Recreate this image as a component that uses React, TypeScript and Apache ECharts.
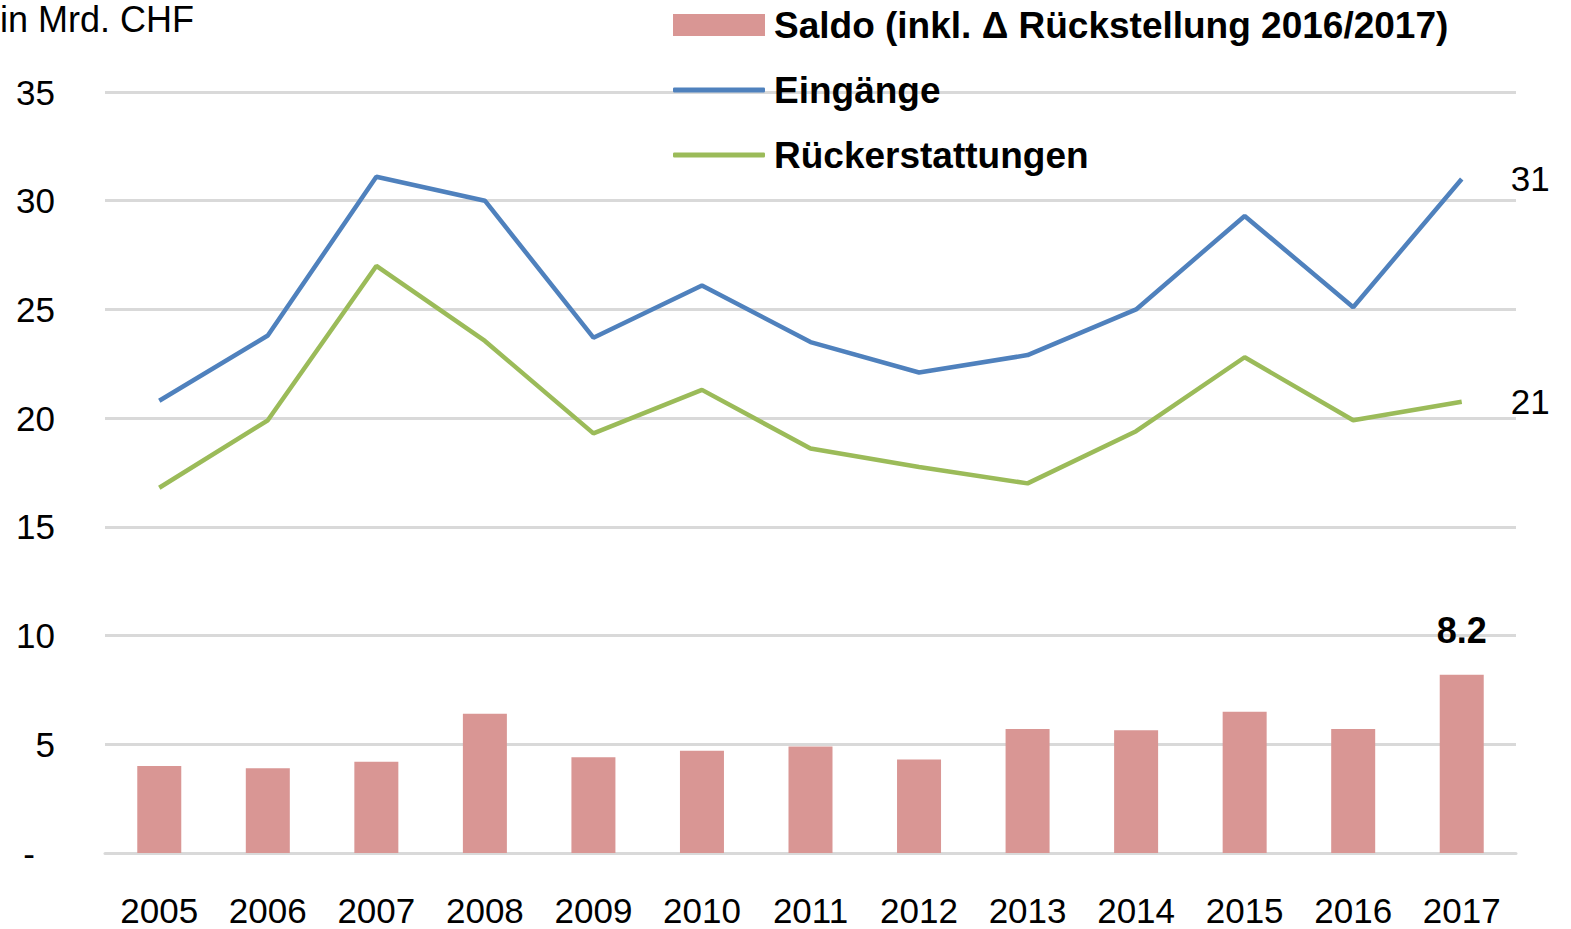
import React, { useEffect, useRef } from "react";
import * as echarts from "echarts";

const years = ["2005","2006","2007","2008","2009","2010","2011","2012","2013","2014","2015","2016","2017"];
const saldo = [4.0, 3.9, 4.2, 6.4, 4.4, 4.7, 4.9, 4.3, 5.7, 5.65, 6.5, 5.7, 8.2];
const eingaenge = [20.8, 23.8, 31.1, 30.0, 23.7, 26.1, 23.5, 22.1, 22.9, 25.0, 29.3, 25.1, 31.0];
const rueck = [16.8, 19.9, 27.0, 23.55, 19.3, 21.3, 18.6, 17.75, 17.0, 19.4, 22.8, 19.9, 20.75];
const endLabels = { saldo: "8.2", eingaenge: "31", rueck: "21" };
const names = ["Saldo (inkl. \u0394 R\u00fcckstellung 2016/2017)", "Eing\u00e4nge", "R\u00fcckerstattungen"];

const FONT = "'Liberation Sans', Arial, sans-serif";

export default function App() {
  const ref = useRef<HTMLDivElement>(null);
  useEffect(() => {
    const chart = echarts.init(ref.current!, null, { renderer: "svg" });
    const last = years.length - 1;
    const legText = { fontFamily: FONT, fontWeight: "bold", fontSize: 37, color: "#000", lineHeight: 40, padding: [0, 0, 0, 4] };
    const endLabel = (txt: string) => ({
      show: true,
      distance: 49,
      fontSize: 35,
      color: "#000",
      fontFamily: FONT,
      formatter: () => txt,
    });
    chart.setOption({
      animation: false,
      textStyle: { fontFamily: FONT },
      grid: { left: 105, right: 55, top: 92, bottom: 76, containLabel: false },
      legend: [
        {
          orient: "vertical",
          left: 668,
          top: 0,
          itemWidth: 92,
          itemHeight: 22,
          data: [{ name: names[0], icon: "rect" }],
          textStyle: legText,
        },
        {
          orient: "vertical",
          left: 668,
          top: 65,
          itemWidth: 92,
          itemHeight: 5,
          itemGap: 25,
          data: [
            { name: names[1], icon: "roundRect", itemStyle: { color: "#4f81bd" } },
            { name: names[2], icon: "roundRect", itemStyle: { color: "#9bbb59" } },
          ],
          textStyle: legText,
        },
      ],
      graphic: [
        { type: "text", left: 0, top: 1, style: { text: "in Mrd. CHF", font: `36px ${FONT}`, fill: "#000" } },
      ],
      xAxis: {
        type: "category",
        data: years,
        boundaryGap: true,
        axisLine: { lineStyle: { color: "#d9d9d9", width: 3 } },
        axisTick: { show: false },
        axisLabel: { color: "#000", fontSize: 35, margin: 40, fontFamily: FONT },
      },
      yAxis: {
        type: "value",
        min: 0,
        max: 35,
        interval: 5,
        axisLine: { show: false },
        axisTick: { show: false },
        splitLine: { lineStyle: { color: "#d9d9d9", width: 3 } },
        axisLabel: {
          color: "#000",
          fontSize: 35,
          margin: 50,
          fontFamily: FONT,
          formatter: (v: number) => (v === 0 ? "{d|-}" : String(v)),
          rich: { d: { fontSize: 35, color: "#000", padding: [0, 20, 0, 0] } },
        },
      },
      series: [
        {
          name: names[0],
          type: "bar",
          data: saldo,
          barWidth: 44,
          itemStyle: { color: "#d99694" },
          label: {
            show: true,
            position: "top",
            distance: 26,
            fontWeight: "bold",
            fontSize: 36,
            color: "#000",
            fontFamily: FONT,
            formatter: (p: any) => (p.dataIndex === last ? endLabels.saldo : ""),
          },
        },
        {
          name: names[1],
          type: "line",
          data: eingaenge,
          symbol: "none",
          clip: false,
          lineStyle: { color: "#4f81bd", width: 4.5 },
          itemStyle: { color: "#4f81bd" },
          endLabel: endLabel(endLabels.eingaenge),
        },
        {
          name: names[2],
          type: "line",
          data: rueck,
          symbol: "none",
          clip: false,
          lineStyle: { color: "#9bbb59", width: 4.5 },
          itemStyle: { color: "#9bbb59" },
          endLabel: endLabel(endLabels.rueck),
        },
      ],
    });
    return () => chart.dispose();
  }, []);
  return (
    <div
      ref={ref}
      style={{ position: "absolute", left: 0, top: 0, width: 1571, height: 929, background: "#fff" }}
    />
  );
}
